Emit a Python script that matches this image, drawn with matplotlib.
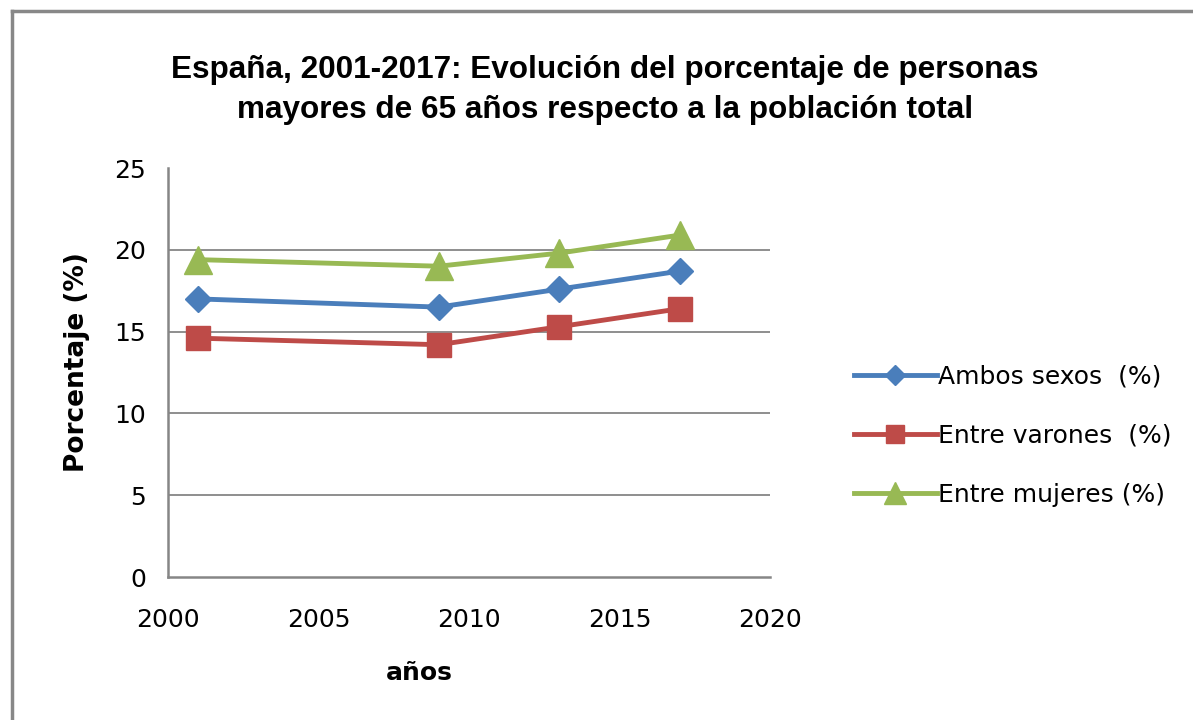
import matplotlib
matplotlib.use('Agg')
import matplotlib.pyplot as plt
from matplotlib.lines import Line2D

# DATA
years = [2001, 2009, 2013, 2017]
ambos = [17.0, 16.5, 17.6, 18.7]
varones = [14.6, 14.2, 15.3, 16.4]
mujeres = [19.4, 19.0, 19.8, 20.9]

labels = ['Ambos sexos  (%)', 'Entre varones  (%)', 'Entre mujeres (%)']
colors = ['#4a7ebb', '#be4b48', '#98b954']
markers = ['D', 's', '^']
msizes = [13, 17, 20]

title = ('España, 2001-2017: Evolución del porcentaje de personas\n'
         'mayores de 65 años respecto a la población total')

fig = plt.figure(figsize=(11.93, 7.2), dpi=100)

# outer chart frame
fig.add_artist(plt.Line2D([0.010, 0.010], [0.0, 0.985], color='#888888', lw=2.5,
                          transform=fig.transFigure))
fig.add_artist(plt.Line2D([0.010, 1.0], [0.985, 0.985], color='#888888', lw=2.5,
                          transform=fig.transFigure))

ax = fig.add_axes([0.1408, 0.1986, 0.5046, 0.568])

series = [ambos, varones, mujeres]
for vals, lab, c, m, ms in zip(series, labels, colors, markers, msizes):
    ax.plot(years, vals, color=c, lw=3.5, marker=m, ms=ms, mec=c, mfc=c, label=lab,
            solid_joinstyle='round')

ax.set_xlim(2000, 2020)
ax.set_ylim(0, 25)
ax.set_xticks([2000, 2005, 2010, 2015, 2020])
ax.set_yticks([0, 5, 10, 15, 20, 25])
for y in [5, 10, 15, 20]:
    ax.axhline(y, color='#868686', lw=1.3, zorder=0)

for s in ['top', 'right']:
    ax.spines[s].set_visible(False)
for s in ['left', 'bottom']:
    ax.spines[s].set_color('#868686')
    ax.spines[s].set_linewidth(1.8)
ax.tick_params(axis='x', length=0, labelsize=18, pad=22)
ax.tick_params(axis='y', length=0, labelsize=18, pad=16)
for t in ax.get_xticklabels() + ax.get_yticklabels():
    t.set_family('DejaVu Sans')

ax.set_xlabel('años', fontsize=18, fontweight='bold')
ax.xaxis.set_label_coords(0.417, -0.205)
ax.set_ylabel('Porcentaje (%)', fontsize=19, fontweight='bold')
ax.yaxis.set_label_coords(-0.13, 0.526)

fig.text(0.507, 0.875, title, ha='center', va='center', fontsize=22.7,
         fontweight='bold', family=['Liberation Sans', 'DejaVu Sans'],
         linespacing=1.45)

handles = [Line2D([0], [0], color=c, lw=3.5, marker=m, ms=ms * 0.8, mec=c, mfc=c)
           for c, m, ms in zip(colors, markers, msizes)]
fig.legend(handles, labels, loc='center left', bbox_to_anchor=(0.697, 0.395),
           frameon=False, fontsize=18, handlelength=3.3, handletextpad=0.05,
           labelspacing=1.4)

fig.savefig('out.png', dpi=100)
